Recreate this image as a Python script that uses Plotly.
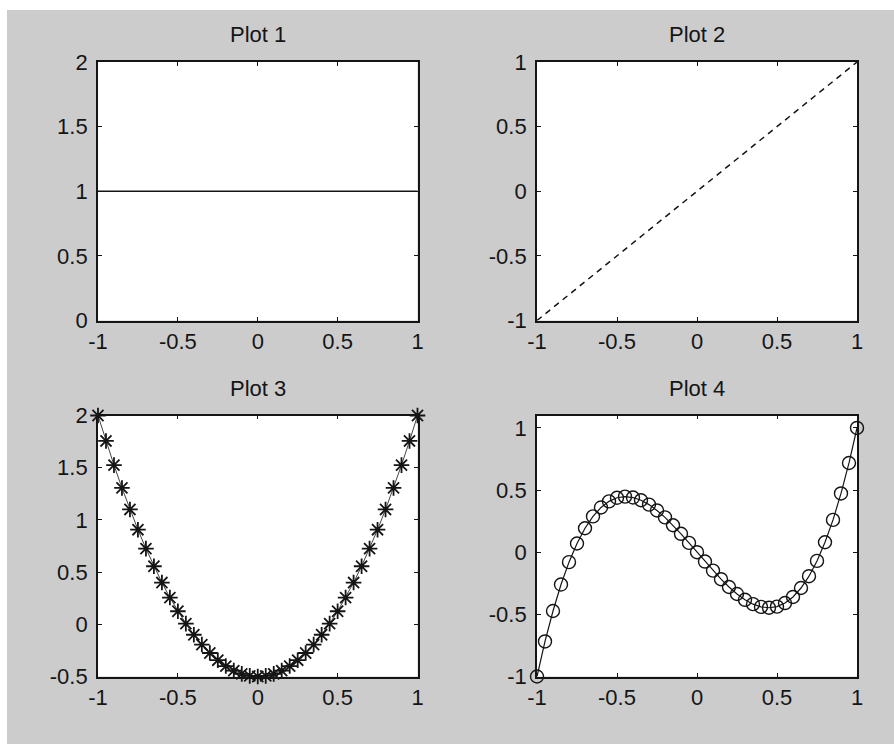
import plotly.graph_objects as go
from plotly.subplots import make_subplots

# Sample points shared by the lower two panels
x_samples = [-1.0, -0.95, -0.9, -0.85, -0.8, -0.75, -0.7, -0.65, -0.6, -0.55,
             -0.5, -0.45, -0.4, -0.35, -0.3, -0.25, -0.2, -0.15, -0.1, -0.05,
             0.0, 0.05, 0.1, 0.15, 0.2, 0.25, 0.3, 0.35, 0.4, 0.45,
             0.5, 0.55, 0.6, 0.65, 0.7, 0.75, 0.8, 0.85, 0.9, 0.95, 1.0]

# Plot 1: constant line
p1_x = [-1.0, 1.0]
p1_y = [1.0, 1.0]

# Plot 2: straight diagonal
p2_x = [-1.0, 1.0]
p2_y = [-1.0, 1.0]

# Plot 3: parabola
p3_y = [2.0, 1.756, 1.525, 1.306, 1.1, 0.906, 0.725, 0.556, 0.4, 0.256,
        0.125, 0.006, -0.1, -0.194, -0.275, -0.344, -0.4, -0.444, -0.475, -0.494,
        -0.5, -0.494, -0.475, -0.444, -0.4, -0.344, -0.275, -0.194, -0.1, 0.006,
        0.125, 0.256, 0.4, 0.556, 0.725, 0.906, 1.1, 1.306, 1.525, 1.756, 2.0]

# Plot 4: cubic
p4_y = [-1.0, -0.718, -0.473, -0.26, -0.08, 0.07, 0.193, 0.288, 0.36, 0.409,
        0.438, 0.447, 0.44, 0.418, 0.383, 0.336, 0.28, 0.217, 0.148, 0.075,
        0.0, -0.075, -0.148, -0.217, -0.28, -0.336, -0.383, -0.418, -0.44, -0.447,
        -0.438, -0.409, -0.36, -0.288, -0.193, -0.07, 0.08, 0.26, 0.473, 0.718, 1.0]

titles = ["Plot 1", "Plot 2", "Plot 3", "Plot 4"]

x_ticks = [-1, -0.5, 0, 0.5, 1]
x_tick_text = ["-1", "-0.5", "0", "0.5", "1"]
y_ticks_1 = [0, 0.5, 1, 1.5, 2]
y_ticks_2 = [-1, -0.5, 0, 0.5, 1]
y_ticks_3 = [-0.5, 0, 0.5, 1, 1.5, 2]
y_ticks_4 = [-1, -0.5, 0, 0.5, 1]

W, H = 894, 744
FONT = "Liberation Sans, Arial, sans-serif"
BG = "#cccccc"
INK = "#151515"

# Panel rectangles in pixels: (left, right, top, bottom)
boxes = [(98, 417.5, 62, 320.5),
         (537, 857, 62, 320.5),
         (98, 417.5, 415.5, 676.5),
         (537, 857, 415.5, 676.5)]

fig = make_subplots(rows=2, cols=2)

fig.add_trace(go.Scatter(x=p1_x, y=p1_y, mode="lines",
                         line=dict(color=INK, width=1.5)), row=1, col=1)
fig.add_trace(go.Scatter(x=p2_x, y=p2_y, mode="lines",
                         line=dict(color=INK, width=1.5, dash="6px,5px")), row=1, col=2)
fig.add_trace(go.Scatter(x=x_samples, y=p3_y, mode="lines+markers", cliponaxis=False,
                         line=dict(color=INK, width=0.8),
                         marker=dict(symbol="asterisk-open", size=13,
                                     line=dict(color=INK, width=1.8))), row=2, col=1)
fig.add_trace(go.Scatter(x=x_samples, y=p4_y, mode="lines+markers", cliponaxis=False,
                         line=dict(color=INK, width=1.2),
                         marker=dict(symbol="circle-open", size=13, color=INK,
                                     line=dict(color=INK, width=1.4))), row=2, col=2)

y_ranges = [(0, 2), (-1, 1), (-0.5, 2), (-1, 1.1)]
y_tick_sets = [y_ticks_1, y_ticks_2, y_ticks_3, y_ticks_4]

axis_common = dict(showgrid=False, zeroline=False, showline=True, linecolor=INK,
                   linewidth=1.8, mirror="ticks", ticks="inside", ticklen=4,
                   tickcolor=INK, tickwidth=1.2, automargin=False,
                   tickfont=dict(family=FONT, size=22, color=INK))

annotations = []
for i, (l, r, t, b) in enumerate(boxes):
    xa = "xaxis" if i == 0 else f"xaxis{i + 1}"
    ya = "yaxis" if i == 0 else f"yaxis{i + 1}"
    fig.layout[xa].update(domain=[l / W, r / W], range=[-1, 1],
                          tickvals=x_ticks, ticktext=x_tick_text, **axis_common)
    yt = y_tick_sets[i]
    fig.layout[ya].update(domain=[1 - b / H, 1 - t / H], range=list(y_ranges[i]),
                          tickvals=yt, ticktext=[f"{v:g}" for v in yt],
                          ticklabelstandoff=4, **axis_common)
    annotations.append(dict(text=titles[i], x=(l + r) / 2 / W, y=1 - (t - 27.5) / H,
                            xref="paper", yref="paper", showarrow=False,
                            xanchor="center", yanchor="middle",
                            font=dict(family=FONT, size=22, color=INK)))

# White strips along the top and left edges of the grey figure window
edge_strips = [
    dict(type="rect", xref="paper", yref="paper", x0=0, x1=1, y0=1 - 10 / H, y1=1,
         fillcolor="white", line=dict(width=0), layer="below"),
    dict(type="rect", xref="paper", yref="paper", x0=0, x1=7 / W, y0=0, y1=1,
         fillcolor="white", line=dict(width=0), layer="below"),
]

fig.update_layout(
    width=W, height=H,
    margin=dict(l=0, r=0, t=0, b=0),
    paper_bgcolor=BG,
    plot_bgcolor="white",
    showlegend=False,
    annotations=annotations,
    shapes=edge_strips,
)

fig.write_html("out.html")
